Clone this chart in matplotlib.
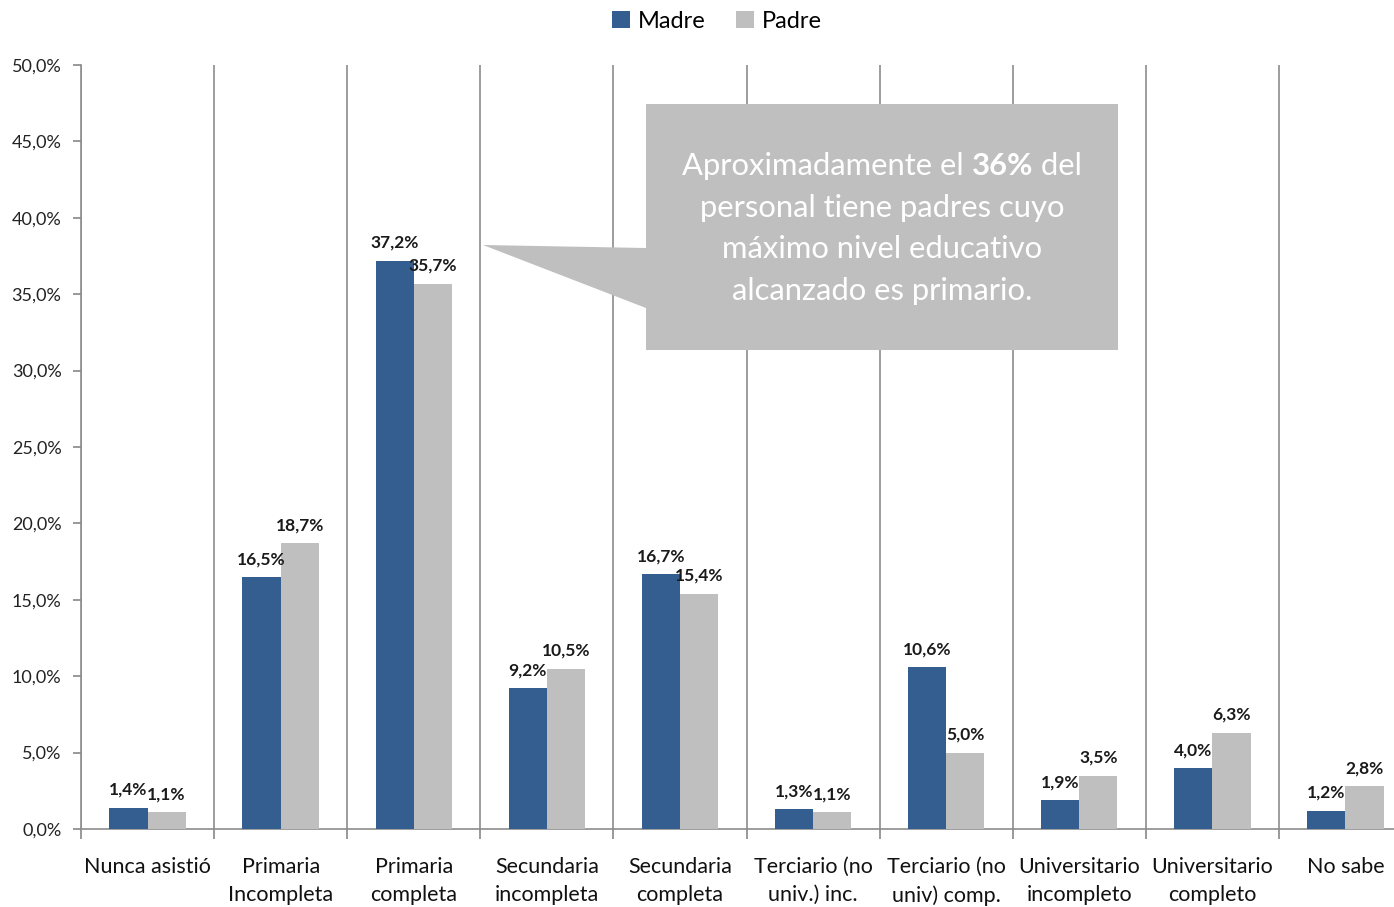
import matplotlib
matplotlib.use("Agg")
import matplotlib.pyplot as plt
from matplotlib.patches import Polygon
import numpy as np

categories = ["Nunca asistió", "Primaria\nIncompleta", "Primaria\ncompleta",
              "Secundaria\nincompleta", "Secundaria\ncompleta", "Terciario (no\nuniv.) inc.",
              "Terciario (no\nuniv) comp.", "Universitario\nincompleto", "Universitario\ncompleto",
              "No sabe"]
madre = [1.4, 16.5, 37.2, 9.2, 16.7, 1.3, 10.6, 1.9, 4.0, 1.2]
padre = [1.1, 18.7, 35.7, 10.5, 15.4, 1.1, 5.0, 3.5, 6.3, 2.8]
yticks = [0, 5, 10, 15, 20, 25, 30, 35, 40, 45, 50]

plt.rcParams['font.family'] = ['Lato', 'DejaVu Sans']
W, H = 1394, 907
fig = plt.figure(figsize=(W/100, H/100), dpi=100)
left = 81 / W
bottom = (H - 829) / H
height = (829 - 65) / H
width = 10 * 133.1 / W
ax = fig.add_axes([left, bottom, width, height])

x = np.arange(len(categories))
bw = 0.287
c_m = '#355E90'
c_p = '#BFBFBF'
b1 = ax.bar(x - bw/2, madre, bw, color=c_m, label='Madre', zorder=3)
b2 = ax.bar(x + bw/2, padre, bw, color=c_p, label='Padre', zorder=3)

def fmt(v):
    return f"{v:.1f}".replace('.', ',') + '%'

for xi, v in zip(x, madre):
    ax.annotate(fmt(v), (xi - bw/2, v), xytext=(0, 7), textcoords='offset points',
                ha='center', va='bottom', fontsize=12.5, fontweight='bold', color='#1a1a1a', zorder=5)
for xi, v in zip(x, padre):
    ax.annotate(fmt(v), (xi + bw/2, v), xytext=(0, 7), textcoords='offset points',
                ha='center', va='bottom', fontsize=12.5, fontweight='bold', color='#1a1a1a', zorder=5)

ax.set_xlim(-0.5, len(categories) - 0.5)
ax.set_ylim(0, 50)
ax.set_yticks(yticks)
ax.set_yticklabels([fmt(v) for v in yticks], fontsize=13, color='#222222')

bounds = np.arange(-0.5, len(categories) + 0.5, 1.0)
ax.set_xticks(x)
ax.set_xticklabels(categories, fontsize=15.5, color='#111111', linespacing=1.5)
ax.tick_params(axis='x', which='major', length=0, pad=20)
ax.set_xticks(bounds, minor=True)
ax.tick_params(axis='x', which='minor', length=7, color='#888888', width=1.2)
ax.tick_params(axis='y', length=6, color='#888888', width=1.2, pad=8)
ax.xaxis.grid(True, which='minor', color='#8C8C8C', linewidth=1.2, zorder=0)
ax.yaxis.grid(False)
ax.xaxis.grid(False, which='major')
for s in ['top', 'right']:
    ax.spines[s].set_visible(False)
for s in ['left', 'bottom']:
    ax.spines[s].set_color('#8C8C8C')
    ax.spines[s].set_linewidth(1.2)
ax.set_axisbelow(True)

def fx(px):
    return px / W
def fy(py):
    return 1 - py / H
pts = [(646, 104), (1118, 104), (1118, 350), (646, 350), (646, 308), (483, 245), (646, 248)]
poly = Polygon([(fx(a), fy(b)) for a, b in pts], closed=True, transform=fig.transFigure,
               facecolor='#BFBFBF', edgecolor='none', zorder=10)
fig.add_artist(poly)

cx = fx(882)
fs = 22.3
parts = [("Aproximadamente el ", 'normal'), ("36%", 'bold'), (" del", 'normal')]
texts = [fig.text(0, fy(166), s, ha='left', va='center', fontsize=fs, color='white',
                  fontweight=w, zorder=11) for s, w in parts]
fig.canvas.draw()
r = fig.canvas.get_renderer()
widths = [t.get_window_extent(r).width for t in texts]
total = sum(widths)
xstart = 882 - total / 2
for t, wd in zip(texts, widths):
    t.set_x(fx(xstart))
    xstart += wd
fig.text(cx, fy(208), "personal tiene padres cuyo", ha='center', va='center', fontsize=fs, color='white', zorder=11)
fig.text(cx, fy(249), "máximo nivel educativo", ha='center', va='center', fontsize=fs, color='white', zorder=11)
fig.text(cx, fy(291), "alcanzado es primario.", ha='center', va='center', fontsize=fs, color='white', zorder=11)

leg = fig.legend(handles=[b1, b2], labels=['Madre', 'Padre'], loc='center', bbox_to_anchor=(fx(717), fy(21)),
                 ncol=2, frameon=False, fontsize=17, handlelength=0.75, handleheight=0.75,
                 handletextpad=0.35, columnspacing=1.3)

fig.savefig('out.png', dpi=100)
